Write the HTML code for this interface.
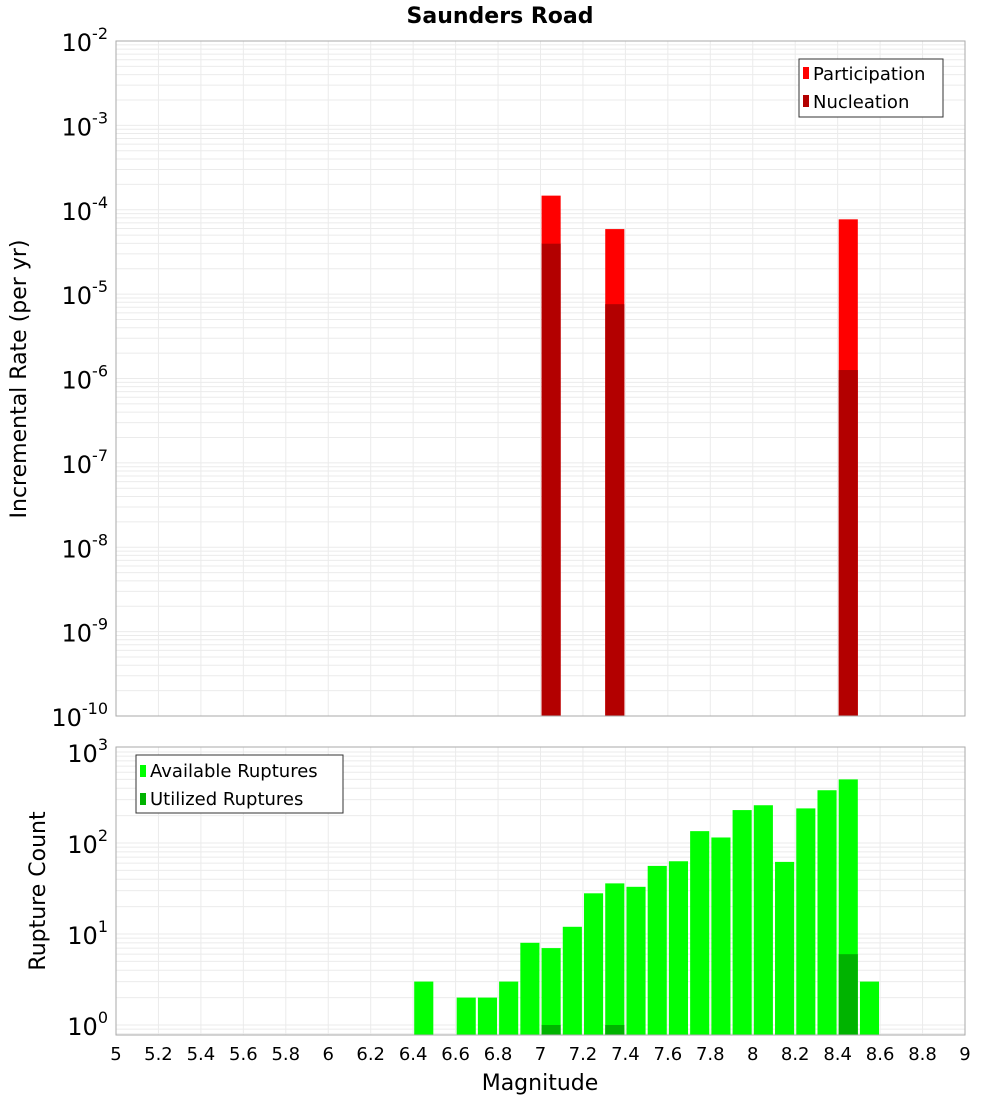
<!DOCTYPE html>
<html><head><meta charset="utf-8"><style>
body{margin:0;background:#fff;font-family:"DejaVu Sans","Liberation Sans",sans-serif;}
svg text{font-family:"DejaVu Sans","Liberation Sans",sans-serif;}
</style></head><body>
<svg id="c" width="1000" height="1100" xmlns="http://www.w3.org/2000/svg">
<rect width="1000" height="1100" fill="#fff"/>
<text x="500" y="23" text-anchor="middle" font-size="22" font-weight="bold">Saunders Road</text>
<text transform="translate(26,379) rotate(-90)" text-anchor="middle" font-size="22">Incremental Rate (per yr)</text>
<text transform="translate(45,891) rotate(-90)" text-anchor="middle" font-size="22">Rupture Count</text>
<text x="540" y="1090" text-anchor="middle" font-size="22">Magnitude</text>
<g id="top"></g><g id="bot"></g>
<g>
<rect x="799" y="59" width="144" height="58" fill="#fff" stroke="#333"/>
<rect x="803" y="67" width="6" height="12" fill="#ff0000"/>
<text x="813" y="80" font-size="18">Participation</text>
<rect x="803" y="95" width="6" height="12" fill="#b30000"/>
<text x="813" y="108" font-size="18">Nucleation</text>
</g>
<g>
<rect x="136" y="755" width="207" height="58" fill="#fff" stroke="#333"/>
<rect x="140" y="765" width="6" height="12" fill="#00ff00"/>
<text x="150" y="777" font-size="18">Available Ruptures</text>
<rect x="140" y="793" width="6" height="12" fill="#00b300"/>
<text x="150" y="805" font-size="18">Utilized Ruptures</text>
</g>
</svg>
<script>
const rateMags=[7.05,7.35,8.45];
const participation=[1.47e-4,5.9e-5,7.7e-5];
const nucleation=[3.96e-5,7.6e-6,1.26e-6];
const countMags=[6.45,6.65,6.75,6.85,6.95,7.05,7.15,7.25,7.35,7.45,7.55,7.65,7.75,7.85,7.95,8.05,8.15,8.25,8.35,8.45,8.55];
const availableCounts=[3,2,2,3,8,7,12,28,36,33,56,63,135,115,230,260,62,240,380,500,3];
const utilMags=[7.05,7.35,8.45];
const utilizedCounts=[1,1,6];
const xTicks=["5","5.2","5.4","5.6","5.8","6","6.2","6.4","6.6","6.8","7","7.2","7.4","7.6","7.8","8","8.2","8.4","8.6","8.8","9"];
const topDecades=[-2,-3,-4,-5,-6,-7,-8,-9,-10];
const botDecades=[3,2,1,0];

const NS="http://www.w3.org/2000/svg";
const X0=116,X1=965;
const xs=m=>X0+(m-5)/4*(X1-X0);
function el(p,t,a){const e=document.createElementNS(NS,t);for(const k in a)e.setAttribute(k,a[k]);p.appendChild(e);return e;}
function panel(g,top,bot,lmin,lmax){
  const ys=v=>bot-(Math.log10(v)-lmin)/(lmax-lmin)*(bot-top);
  for(let d=Math.floor(lmin);d<=Math.ceil(lmax);d++)for(let k=1;k<10;k++){const y=ys(k*Math.pow(10,d));if(y>=top&&y<=bot){const l=el(g,'line',{x1:X0,x2:X1,y1:y,y2:y,stroke:'#ebebeb','stroke-width':1});}}
  xTicks.forEach(t=>{const x=xs(+t);const l=el(g,'line',{x1:x,x2:x,y1:top,y2:bot,stroke:'#ebebeb','stroke-width':1});});
  return ys;
}
function frame(g,top,bot){const r=el(g,'rect',{x:X0,y:top,width:X1-X0,height:bot-top,fill:'none',stroke:'#aaa'});}
function bar(g,m,v,ys,bot,col,name){const x=xs(m-0.045),w=xs(m+0.045)-x;const y=ys(v);const r=el(g,'rect',{x:x,y:y,width:w,height:bot-y,fill:col});}
function ylab(g,d,y){const t=el(g,'text',{x:108,y:y,'text-anchor':'end','font-size':24});
  t.appendChild(document.createTextNode('10'));const s=el(t,'tspan',{dy:-12,'font-size':16});s.textContent=String(d);}
// top panel
const gt=document.getElementById('top');const T0=41,T1=716;
const yt=panel(gt,T0,T1,-10,-2);
rateMags.forEach((m,i)=>bar(gt,m,participation[i],yt,T1,'#ff0000','participation-bar'));
rateMags.forEach((m,i)=>bar(gt,m,nucleation[i],yt,T1,'#b30000','nucleation-bar'));
frame(gt,T0,T1);
topDecades.forEach(d=>ylab(gt,d,yt(Math.pow(10,d))+10));
// bottom panel
const gb=document.getElementById('bot');const B0=747,B1=1035;
const yb=panel(gb,B0,B1,-0.11,3.055);
countMags.forEach((m,i)=>bar(gb,m,availableCounts[i],yb,B1,'#00ff00','available-bar'));
utilMags.forEach((m,i)=>bar(gb,m,utilizedCounts[i],yb,B1,'#00b300','utilized-bar'));
frame(gb,B0,B1);
botDecades.forEach(d=>ylab(gb,d,yb(Math.pow(10,d))+10));
xTicks.forEach(t=>{const e=el(gb,'text',{x:xs(+t),y:1060,'text-anchor':'middle','font-size':18});e.textContent=t;});
</script>
</body></html>
